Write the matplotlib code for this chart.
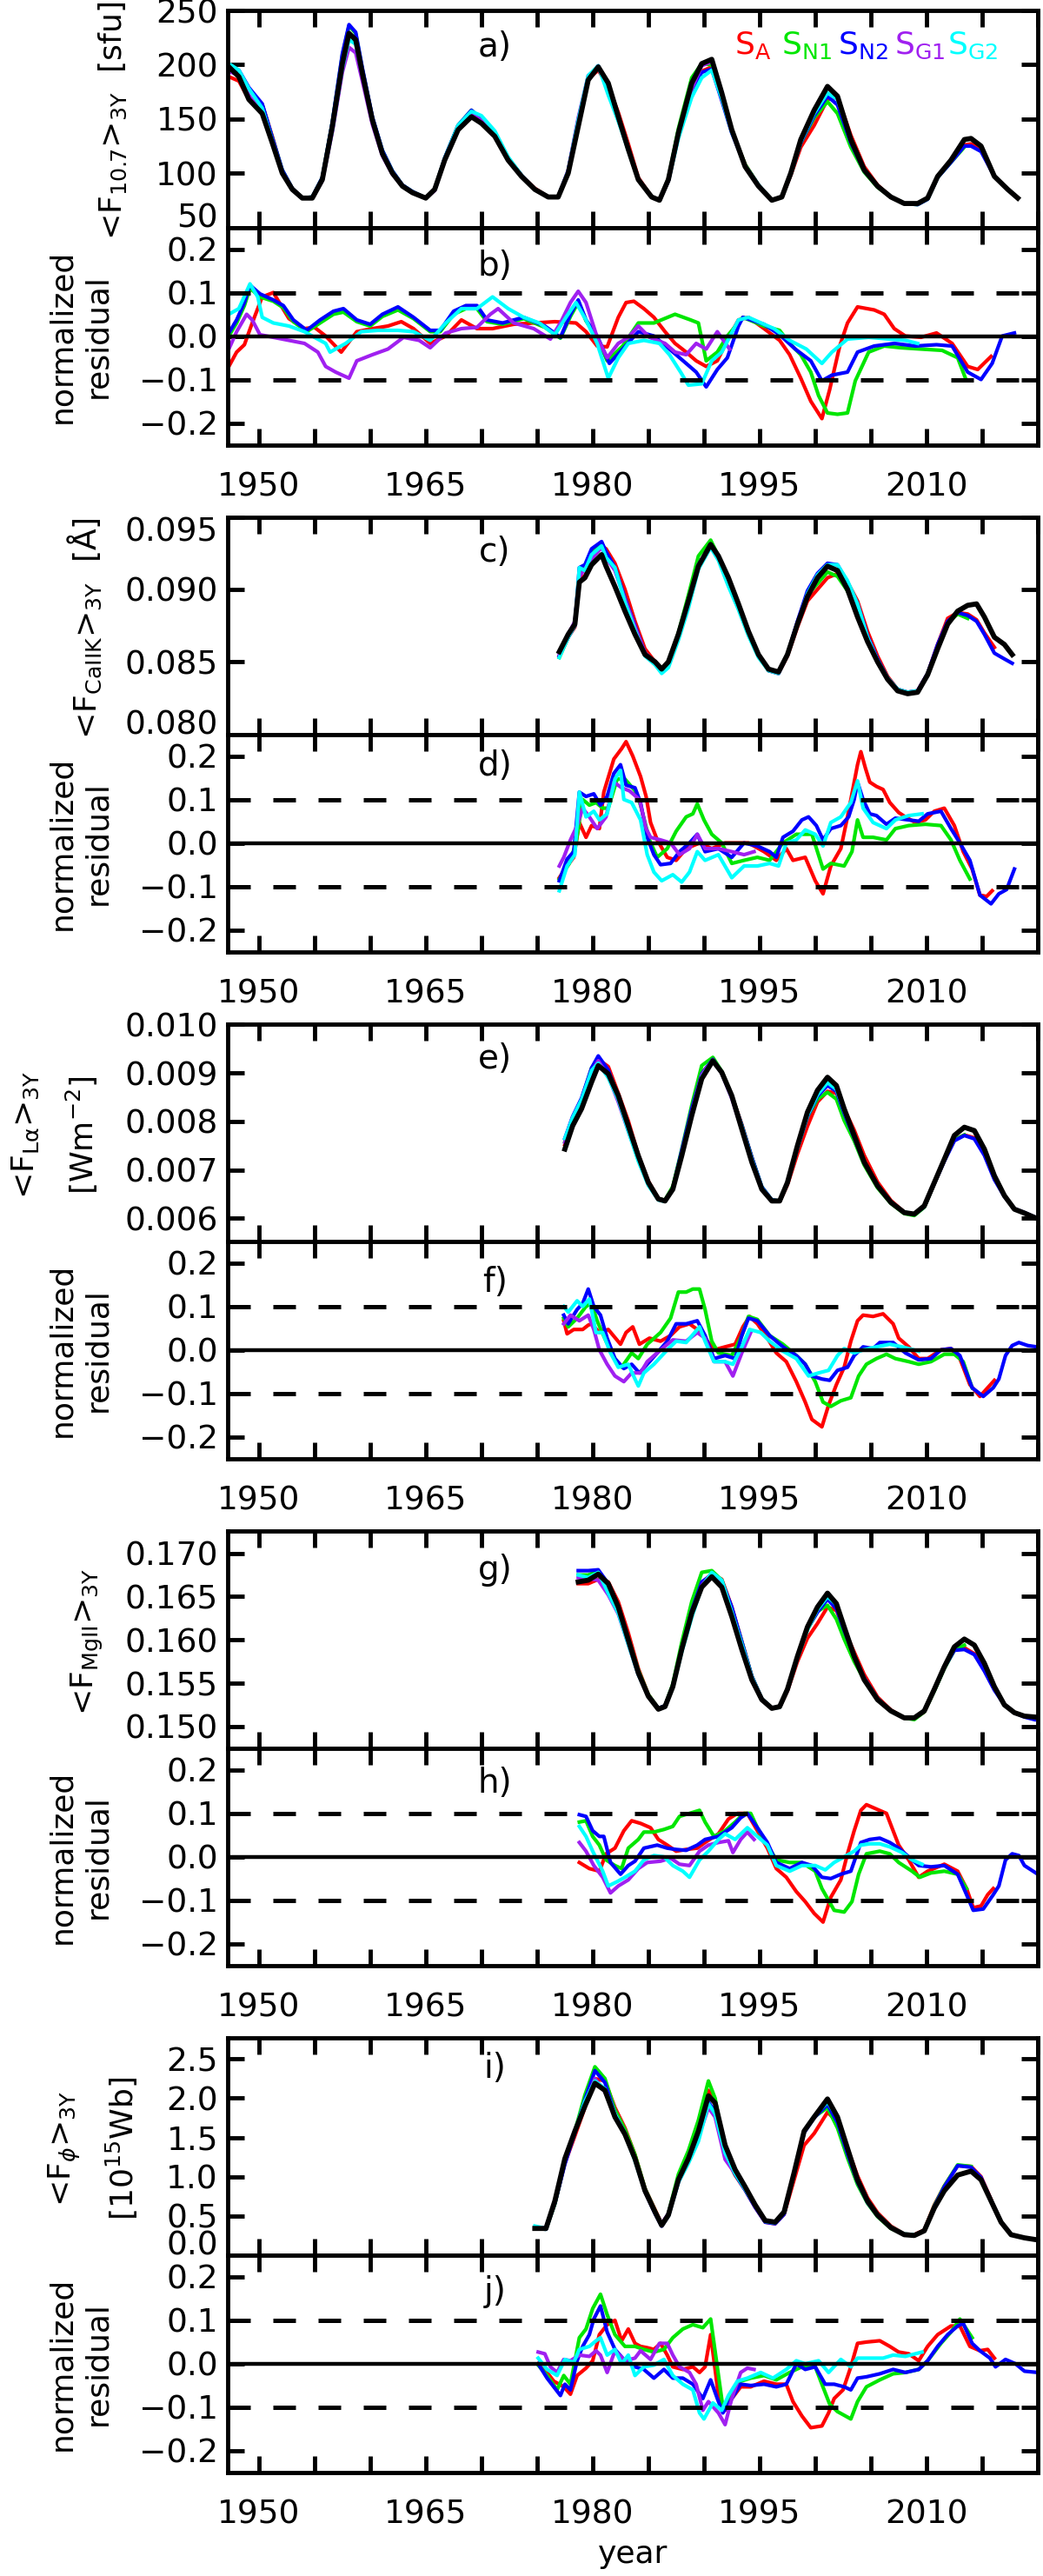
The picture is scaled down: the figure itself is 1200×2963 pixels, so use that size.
import numpy as np
import matplotlib
matplotlib.use('Agg')
import matplotlib.pyplot as plt
from matplotlib.ticker import MultipleLocator, FuncFormatter

plt.rcParams['font.family'] = ['DejaVu Sans']
plt.rcParams['mathtext.fontset'] = 'dejavusans'

# model colours: S_A, S_N1, S_N2, S_G1, S_G2
col_models = ['#ff0000', '#00e600', '#0000ff', '#a020f0', '#00ffff']
names = [r'S$_{\mathrm{A}}$', r'S$_{\mathrm{N1}}$', r'S$_{\mathrm{N2}}$', r'S$_{\mathrm{G1}}$', r'S$_{\mathrm{G2}}$']

# ---------------- F10.7 (panels a, b) ----------------
yr_a = [1947.3, 1948.2, 1949.1, 1950.3, 1951.2, 1952.1, 1953.0, 1953.9, 1954.8, 1955.7,
        1956.6, 1957.5, 1958.1, 1958.7, 1959.3, 1960.2, 1961.1, 1962.0, 1962.9, 1963.8,
        1965.0, 1965.8, 1966.7, 1967.9, 1969.1, 1970.0, 1971.2, 1972.4, 1973.6, 1974.8,
        1976.0, 1976.9, 1977.8, 1978.7, 1979.6, 1980.5, 1981.4, 1982.3, 1983.2, 1984.1,
        1985.3, 1986.0, 1986.8, 1987.7, 1988.9, 1989.8, 1990.7, 1991.6, 1992.5, 1993.7,
        1994.9, 1996.1, 1997.0, 1997.8, 1998.7, 1999.9, 2001.1, 2002.0, 2003.2, 2004.4,
        2005.6, 2006.8, 2008.0, 2009.2, 2010.1, 2011.0, 2012.2, 2013.4, 2014.0, 2014.9,
        2016.1, 2017.3, 2018.2]
obs_a = [198, 189, 168, 155, 128, 100, 85, 77, 77, 94,
         143, 201, 229, 223, 192, 149, 118, 100, 88, 82,
         77, 85, 112, 140, 152, 146, 134, 112, 97, 85,
         78, 78, 100, 143, 186, 198, 183, 152, 122, 94,
         78, 75, 94, 137, 183, 201, 205, 174, 140, 106,
         88, 75, 78, 100, 131, 158, 180, 171, 131, 103,
         88, 78, 72, 72, 77, 97, 112, 131, 132, 125,
         97, 85, 77]
red_a = [189, 185, 168, 163, 134, 102, 86, 77, 77, 94,
         141, 196, 227, 224, 193, 150, 119, 101, 89, 82,
         77, 85, 112, 141, 154, 147, 135, 113, 98, 86,
         78, 78, 101, 145, 187, 195, 180, 156, 127, 96,
         78, 75, 93, 135, 178, 194, 198, 169, 139, 108,
         89, 75, 78, 98, 124, 144, 168, 170, 135, 106,
         89, 78, 72, 72, 77, 97, 112, 126, 127, 122]
grn_a = [199, 194, 178, 163, 133, 103, 86, 77, 78, 96,
         147, 209, 236, 229, 196, 151, 121, 102, 89, 83,
         77, 85, 114, 144, 158, 150, 136, 114, 98, 85,
         78, 78, 102, 149, 188, 198, 176, 149, 122, 95,
         78, 75, 95, 141, 188, 201, 200, 170, 139, 108,
         89, 75, 78, 99, 128, 151, 166, 155, 124, 101,
         87, 78, 72, 71, 76, 96, 110, 124]
blu_a = [199, 195, 179, 164, 133, 103, 86, 77, 78, 96,
         147, 210, 237, 230, 197, 152, 121, 102, 89, 83,
         77, 85, 114, 144, 158, 150, 136, 114, 98, 85,
         78, 78, 102, 149, 188, 199, 176, 149, 122, 94,
         78, 75, 93, 134, 176, 193, 196, 167, 137, 107,
         89, 75, 78, 99, 128, 153, 171, 163, 128, 102,
         88, 78, 72, 71, 76, 96, 110, 125, 125, 120,
         97, 85, 77]
pur_a = [194, 190, 172, 155, 128, 100, 85, 77, 77, 93,
         138, 193, 216, 211, 185, 145, 116, 99, 88, 82,
         77, 84, 112, 141, 154, 149, 138, 113, 98, 85,
         78, 78, 103, 151, 190, 197, 178, 151, 122, 95,
         78, 75, 93, 135, 178, 199, 203, 175]
cyn_a = [201, 195, 178, 160, 130, 101, 85, 77, 77, 94,
         140, 197, 223, 219, 191, 150, 119, 101, 88, 82,
         77, 85, 113, 144, 157, 153, 139, 115, 98, 85,
         78, 78, 102, 149, 190, 199, 172, 148, 121, 94,
         78, 75, 93, 132, 170, 188, 195, 169, 138, 107,
         89, 75, 78, 99, 129, 155, 174, 168, 131, 103,
         88, 78, 72, 72]

res_b_red = [(1947.3, -0.07), (1948.0, -0.037), (1948.7, -0.02), (1949.4, 0.03), (1950.3, 0.09),
             (1951.3, 0.1), (1952.0, 0.07), (1952.7, 0.04), (1954.1, 0.017), (1955.0, 0.02),
             (1956.0, 0.0), (1957.4, -0.037), (1958.8, 0.01), (1960.2, 0.017), (1961.6, 0.023),
             (1962.8, 0.033), (1963.9, 0.017), (1965.4, -0.017), (1966.8, 0.0), (1968.2, 0.037),
             (1969.6, 0.017), (1971.0, 0.017), (1972.9, 0.027), (1974.7, 0.03), (1976.6, 0.033),
             (1978.5, 0.03), (1979.4, 0.01), (1980.4, -0.023), (1981.3, -0.025), (1982.3, 0.043),
             (1983.0, 0.077), (1983.7, 0.08), (1984.6, 0.063), (1985.5, 0.043), (1986.5, 0.01),
             (1987.4, -0.017), (1988.4, -0.037), (1989.3, -0.057), (1990.2, -0.07), (1991.2, -0.057),
             (1992.1, -0.01), (1993.1, 0.037), (1994.0, 0.043), (1995.4, 0.017), (1996.8, -0.01),
             (1997.7, -0.043), (1998.7, -0.097), (1999.6, -0.15), (2000.6, -0.19), (2001.3, -0.123),
             (2002.2, -0.023), (2002.9, 0.03), (2003.8, 0.067), (2005.3, 0.06), (2006.2, 0.05),
             (2007.1, 0.017), (2008.1, 0.0), (2009.5, -0.003), (2010.9, 0.007), (2012.3, -0.017),
             (2013.7, -0.07), (2014.6, -0.077), (2015.8, -0.047)]
res_b_grn = [(1947.3, 0.0), (1948.0, 0.03), (1948.7, 0.07), (1949.2, 0.11), (1950.1, 0.09),
             (1951.3, 0.08), (1952.2, 0.065), (1953.1, 0.033), (1954.3, 0.01), (1955.5, 0.03),
             (1956.7, 0.05), (1957.6, 0.055), (1958.8, 0.033), (1960.0, 0.023), (1961.1, 0.045),
             (1962.5, 0.06), (1963.9, 0.04), (1965.4, 0.01), (1966.3, 0.01), (1967.5, 0.05),
             (1968.6, 0.063), (1969.6, 0.063), (1970.5, 0.033), (1971.9, 0.027), (1973.8, 0.04),
             (1975.7, 0.02), (1977.1, -0.005), (1978.0, 0.045), (1978.7, 0.077), (1979.4, 0.035),
             (1980.4, -0.005), (1981.3, -0.057), (1982.7, -0.023), (1984.1, 0.03), (1985.5, 0.03),
             (1987.4, 0.05), (1988.8, 0.037), (1989.5, 0.03), (1990.2, -0.057), (1991.2, -0.037),
             (1992.1, 0.0), (1993.5, 0.043), (1995.4, 0.023), (1996.8, 0.013), (1997.7, -0.017),
             (1998.7, -0.043), (1999.6, -0.083), (2000.3, -0.137), (2001.1, -0.177), (2002.0, -0.18),
             (2002.9, -0.177), (2003.6, -0.103), (2004.8, -0.037), (2006.2, -0.023), (2007.7, -0.027),
             (2009.5, -0.03), (2011.4, -0.033), (2012.8, -0.05), (2013.5, -0.097)]
res_b_blu = [(1947.3, 0.007), (1948.0, 0.037), (1948.7, 0.077), (1949.2, 0.117), (1950.1, 0.097),
             (1951.3, 0.083), (1952.2, 0.07), (1953.1, 0.037), (1954.3, 0.013), (1955.5, 0.037),
             (1956.7, 0.057), (1957.6, 0.063), (1958.8, 0.037), (1960.0, 0.027), (1961.1, 0.05),
             (1962.5, 0.067), (1963.9, 0.043), (1965.4, 0.013), (1966.3, 0.013), (1967.5, 0.057),
             (1968.6, 0.07), (1969.6, 0.07), (1970.5, 0.037), (1971.9, 0.03), (1973.8, 0.043),
             (1975.7, 0.023), (1977.1, -0.003), (1978.0, 0.05), (1978.7, 0.083), (1979.4, 0.037),
             (1980.4, 0.0), (1981.5, -0.063), (1982.7, -0.03), (1984.1, 0.01), (1985.5, 0.0),
             (1986.9, -0.03), (1988.4, -0.063), (1989.3, -0.083), (1990.2, -0.117), (1991.2, -0.077),
             (1992.1, -0.05), (1993.1, 0.023), (1993.5, 0.043), (1995.4, 0.027), (1996.8, 0.003),
             (1998.2, -0.03), (1999.6, -0.057), (2000.6, -0.103), (2001.5, -0.09), (2002.9, -0.083),
             (2003.8, -0.037), (2005.3, -0.023), (2007.1, -0.017), (2009.0, -0.023), (2010.9, -0.02),
             (2012.3, -0.023), (2013.7, -0.083), (2014.9, -0.1), (2015.9, -0.063), (2016.8, 0.0),
             (2017.9, 0.007)]
res_b_pur = [(1947.3, -0.03), (1948.0, 0.01), (1948.9, 0.05), (1949.4, 0.037), (1950.1, 0.003),
             (1951.3, -0.003), (1952.7, -0.01), (1954.1, -0.017), (1955.3, -0.037), (1956.0, -0.07),
             (1956.9, -0.083), (1958.1, -0.097), (1958.8, -0.057), (1960.2, -0.043), (1961.6, -0.03),
             (1963.0, -0.003), (1964.4, -0.01), (1965.4, -0.027), (1966.8, 0.007), (1968.2, 0.017),
             (1969.6, 0.02), (1970.8, 0.05), (1971.5, 0.063), (1972.9, 0.03), (1974.7, 0.017),
             (1976.2, -0.007), (1977.1, 0.03), (1978.0, 0.077), (1978.7, 0.103), (1979.4, 0.077),
             (1980.4, -0.003), (1981.3, -0.05), (1982.3, -0.017), (1983.2, -0.003), (1984.1, 0.023),
             (1985.1, -0.003), (1986.5, -0.017), (1987.4, -0.037), (1988.4, -0.043), (1989.3, -0.017),
             (1990.2, -0.03), (1991.2, 0.01), (1992.3, -0.03)]
res_b_cyn = [(1947.3, 0.05), (1948.2, 0.063), (1949.2, 0.12), (1949.9, 0.09), (1950.3, 0.043),
             (1951.3, 0.03), (1952.7, 0.023), (1954.1, 0.01), (1955.0, -0.003), (1956.0, -0.017),
             (1956.4, -0.037), (1957.8, -0.017), (1959.2, 0.01), (1960.7, 0.013), (1962.5, 0.013),
             (1963.9, 0.01), (1965.4, -0.01), (1966.8, 0.03), (1968.2, 0.063), (1969.6, 0.063),
             (1971.0, 0.09), (1972.4, 0.063), (1973.8, 0.043), (1975.2, 0.03), (1976.6, 0.003),
             (1977.6, 0.043), (1978.5, 0.077), (1979.4, 0.037), (1980.4, -0.017), (1981.4, -0.097),
             (1982.3, -0.05), (1983.2, -0.017), (1984.6, -0.01), (1986.0, -0.017), (1986.9, -0.043),
             (1987.9, -0.083), (1988.6, -0.113), (1989.8, -0.11), (1990.7, -0.057), (1991.6, -0.037),
             (1993.1, 0.037), (1994.0, 0.043), (1995.4, 0.027), (1996.3, 0.017), (1997.7, -0.01),
             (1999.2, -0.03), (2000.6, -0.063), (2001.5, -0.037), (2002.9, -0.007), (2004.8, -0.003),
             (2006.7, -0.007), (2008.1, -0.01), (2009.2, -0.017)]

# ---------------- Ca II K (panels c, d) ----------------
yr_c = [1977.0, 1977.8, 1978.4, 1978.8, 1979.3, 1979.9, 1980.8, 1981.2, 1982.0, 1982.9,
        1983.8, 1984.7, 1985.6, 1986.2, 1986.8, 1987.7, 1988.6, 1989.5, 1990.6, 1991.3,
        1992.2, 1993.1, 1994.0, 1994.9, 1995.8, 1996.7, 1997.5, 1998.4, 1999.3, 2000.2,
        2001.1, 2002.0, 2002.9, 2003.8, 2004.7, 2005.6, 2006.5, 2007.4, 2008.3, 2009.2,
        2010.1, 2011.0, 2011.9, 2012.8, 2013.7, 2014.5, 2015.2, 2016.1, 2017.0, 2017.7]
obs_c = [0.0857, 0.0869, 0.0876, 0.0905, 0.0908, 0.0917, 0.0924, 0.0916, 0.0902, 0.0885,
         0.0869, 0.0855, 0.0850, 0.0845, 0.0850, 0.0869, 0.0892, 0.0916, 0.0931, 0.0923,
         0.0908, 0.0890, 0.0871, 0.0855, 0.0845, 0.0843, 0.0855, 0.0876, 0.0895, 0.0908,
         0.0916, 0.0913, 0.0900, 0.0881, 0.0864, 0.0850, 0.0838, 0.0830, 0.0828, 0.0829,
         0.0841, 0.0859, 0.0876, 0.0885, 0.0889, 0.0890, 0.0881, 0.0867, 0.0862, 0.0855]
red_c = [0.0854, 0.0867, 0.0874, 0.0909, 0.0909, 0.0921, 0.0930, 0.0928, 0.0918, 0.0900,
         0.0878, 0.0859, 0.0850, 0.0844, 0.0849, 0.0867, 0.0891, 0.0916, 0.0930, 0.0923,
         0.0908, 0.0890, 0.0871, 0.0855, 0.0844, 0.0842, 0.0854, 0.0874, 0.0892, 0.0900,
         0.0908, 0.0911, 0.0905, 0.0892, 0.0871, 0.0854, 0.0840, 0.0831, 0.0829, 0.0830,
         0.0842, 0.0862, 0.0880, 0.0884, 0.0883, 0.0879, 0.0870, 0.0860]
grn_c = [0.0853, 0.0867, 0.0876, 0.0910, 0.0916, 0.0926, 0.0932, 0.0924, 0.0914, 0.0894,
         0.0874, 0.0856, 0.0850, 0.0844, 0.0850, 0.0870, 0.0896, 0.0923, 0.0934, 0.0923,
         0.0904, 0.0887, 0.0869, 0.0854, 0.0844, 0.0843, 0.0855, 0.0877, 0.0896, 0.0904,
         0.0912, 0.0909, 0.0899, 0.0883, 0.0865, 0.0850, 0.0838, 0.0831, 0.0828, 0.0829,
         0.0842, 0.0860, 0.0877, 0.0883, 0.0880]
blu_c = [0.0854, 0.0867, 0.0875, 0.0915, 0.0917, 0.0928, 0.0933, 0.0926, 0.0915, 0.0894,
         0.0875, 0.0856, 0.0849, 0.0843, 0.0849, 0.0868, 0.0892, 0.0917, 0.0930, 0.0922,
         0.0905, 0.0889, 0.0871, 0.0855, 0.0844, 0.0842, 0.0855, 0.0878, 0.0899, 0.0911,
         0.0918, 0.0917, 0.0905, 0.0890, 0.0868, 0.0852, 0.0839, 0.0831, 0.0829, 0.0830,
         0.0842, 0.0862, 0.0878, 0.0884, 0.0882, 0.0878, 0.0869, 0.0856, 0.0852, 0.0849]
pur_c = [0.0855, 0.0869, 0.0878, 0.0909, 0.0914, 0.0921, 0.0929, 0.0922, 0.0913, 0.0893,
         0.0874, 0.0856, 0.0850, 0.0845, 0.0850, 0.0868, 0.0891, 0.0917, 0.0930, 0.0922,
         0.0906, 0.0889, 0.0870]
cyn_c = [0.0853, 0.0867, 0.0875, 0.0915, 0.0913, 0.0924, 0.0930, 0.0922, 0.0915, 0.0891,
         0.0872, 0.0854, 0.0848, 0.0842, 0.0846, 0.0865, 0.0887, 0.0914, 0.0929, 0.0920,
         0.0902, 0.0886, 0.0868, 0.0853, 0.0844, 0.0842, 0.0855, 0.0876, 0.0897, 0.0910,
         0.0917, 0.0917, 0.0906, 0.0890, 0.0867, 0.0851, 0.0839, 0.0831, 0.0829, 0.0830]

res_d_red = [(1977.0, -0.08), (1977.7, -0.053), (1978.3, -0.033), (1978.8, 0.047), (1979.4, 0.013),
             (1979.9, 0.04), (1980.6, 0.033), (1981.0, 0.117), (1981.9, 0.193), (1982.6, 0.217),
             (1983.0, 0.233), (1983.6, 0.2), (1984.3, 0.153), (1984.8, 0.107), (1985.2, 0.047),
             (1985.8, 0.007), (1986.7, -0.033), (1987.5, -0.04), (1988.4, -0.013), (1989.6, 0.0),
             (1990.7, -0.013), (1991.9, 0.0), (1992.8, 0.0), (1994.0, 0.0), (1995.4, -0.02),
             (1996.5, -0.04), (1997.4, -0.013), (1998.0, -0.04), (1999.1, -0.033), (2000.0, -0.087),
             (2000.7, -0.117), (2001.4, -0.053), (2002.3, -0.013), (2002.9, 0.06), (2003.3, 0.113),
             (2003.8, 0.18), (2004.1, 0.21), (2004.5, 0.173), (2004.9, 0.14), (2005.5, 0.13),
             (2006.1, 0.123), (2006.7, 0.093), (2007.5, 0.07), (2008.1, 0.06), (2009.0, 0.047),
             (2009.9, 0.053), (2010.7, 0.073), (2011.6, 0.08), (2012.5, 0.04), (2013.3, -0.02),
             (2014.1, -0.06), (2014.8, -0.12), (2015.4, -0.123), (2015.9, -0.11)]
res_d_grn = [(1977.0, -0.083), (1977.9, -0.047), (1978.5, 0.0), (1979.1, 0.1), (1979.7, 0.087),
             (1980.3, 0.093), (1980.9, 0.08), (1981.4, 0.08), (1982.2, 0.147), (1982.9, 0.147),
             (1983.8, 0.12), (1984.3, 0.087), (1985.1, 0.007), (1985.8, -0.033), (1986.7, -0.013),
             (1987.5, 0.027), (1988.4, 0.06), (1989.0, 0.067), (1989.4, 0.09), (1990.0, 0.053),
             (1990.7, 0.02), (1991.6, 0.0), (1992.5, -0.047), (1993.6, -0.04), (1994.8, -0.033),
             (1995.9, -0.04), (1997.1, 0.0), (1998.3, 0.02), (1999.7, 0.02), (2000.7, -0.06),
             (2001.4, -0.047), (2002.6, -0.053), (2003.3, -0.02), (2003.8, 0.053), (2004.3, 0.013),
             (2005.2, 0.013), (2006.4, 0.007), (2007.2, 0.033), (2008.4, 0.04), (2009.9, 0.043),
             (2011.3, 0.04), (2012.2, 0.007), (2013.0, -0.04), (2013.9, -0.083)]
res_d_blu = [(1977.0, -0.087), (1977.7, -0.037), (1978.3, -0.02), (1978.8, 0.117), (1979.4, 0.107),
             (1980.1, 0.113), (1980.7, 0.087), (1981.3, 0.107), (1981.9, 0.16), (1982.5, 0.18),
             (1983.0, 0.133), (1983.8, 0.127), (1984.3, 0.093), (1984.9, 0.013), (1985.5, -0.027),
             (1986.1, -0.05), (1987.0, -0.047), (1987.8, -0.02), (1988.7, 0.0), (1989.4, 0.02),
             (1990.1, -0.02), (1991.3, -0.013), (1992.5, -0.033), (1993.6, 0.0), (1994.8, -0.007),
             (1995.9, -0.02), (1996.5, -0.033), (1997.1, 0.013), (1998.0, 0.027), (1998.8, 0.053),
             (1999.4, 0.06), (2000.1, 0.04), (2000.7, 0.007), (2001.4, 0.033), (2002.3, 0.04),
             (2003.0, 0.06), (2003.5, 0.1), (2003.8, 0.14), (2004.3, 0.1), (2004.9, 0.067),
             (2005.5, 0.063), (2006.4, 0.043), (2007.2, 0.057), (2008.4, 0.053), (2009.3, 0.05),
             (2010.1, 0.067), (2011.3, 0.073), (2012.2, 0.033), (2013.0, 0.0), (2013.9, -0.04),
             (2014.8, -0.12), (2015.8, -0.14), (2016.5, -0.117), (2017.2, -0.107), (2017.9, -0.06)]
res_d_pur = [(1977.0, -0.053), (1977.4, -0.033), (1978.0, 0.007), (1978.6, 0.04), (1979.1, 0.08),
             (1979.7, 0.06), (1980.4, 0.033), (1981.2, 0.06), (1981.9, 0.14), (1982.6, 0.127),
             (1983.3, 0.12), (1984.2, 0.1), (1984.8, 0.033), (1985.2, 0.013), (1986.1, 0.007),
             (1987.0, 0.0), (1987.8, -0.027), (1988.7, -0.013), (1989.4, 0.02), (1990.1, -0.013),
             (1991.3, -0.013), (1992.5, -0.02), (1993.6, -0.027), (1994.5, -0.02)]
res_d_cyn = [(1977.0, -0.11), (1977.7, -0.053), (1978.4, -0.027), (1978.8, 0.117), (1979.4, 0.06),
             (1980.1, 0.073), (1980.6, 0.053), (1981.3, 0.067), (1982.0, 0.147), (1982.5, 0.167),
             (1982.8, 0.1), (1983.5, 0.093), (1984.3, 0.053), (1984.9, -0.027), (1985.5, -0.067),
             (1986.2, -0.087), (1987.2, -0.073), (1988.0, -0.09), (1988.7, -0.067), (1989.4, -0.02),
             (1990.1, -0.04), (1991.3, -0.027), (1992.5, -0.08), (1993.6, -0.053), (1994.8, -0.053),
             (1995.9, -0.047), (1996.7, -0.053), (1997.4, 0.0), (1998.3, 0.007), (1999.1, 0.03),
             (2000.0, 0.02), (2000.7, -0.007), (2001.4, 0.047), (2002.3, 0.06), (2003.2, 0.093),
             (2003.8, 0.143), (2004.3, 0.08), (2005.2, 0.047), (2006.4, 0.033), (2007.2, 0.053),
             (2008.4, 0.063), (2009.6, 0.067)]

# ---------------- Lyman alpha (panels e, f) ----------------
yr_e = [1977.5, 1978.2, 1979.0, 1979.9, 1980.5, 1981.4, 1982.3, 1983.2, 1984.1, 1985.0,
        1985.9, 1986.5, 1987.2, 1988.0, 1988.9, 1989.8, 1990.8, 1991.6, 1992.5, 1993.4,
        1994.3, 1995.2, 1996.1, 1996.8, 1997.5, 1998.4, 1999.3, 2000.2, 2001.1, 2001.9,
        2002.6, 2003.5, 2004.4, 2005.6, 2006.8, 2008.0, 2008.9, 2009.8, 2010.7, 2011.6,
        2012.5, 2013.4, 2014.3, 2015.2, 2016.1, 2017.0, 2017.9, 2018.8, 2019.7]
obs_e = [0.00743, 0.00791, 0.00826, 0.00881, 0.00915, 0.00898, 0.00853, 0.00791, 0.00729, 0.00674,
         0.00640, 0.00636, 0.00660, 0.00729, 0.00812, 0.00888, 0.00925, 0.00901, 0.00853, 0.00784,
         0.00716, 0.00660, 0.00636, 0.00636, 0.00674, 0.00750, 0.00819, 0.00864, 0.00891, 0.00874,
         0.00826, 0.00771, 0.00716, 0.00667, 0.00633, 0.00612, 0.00609, 0.00626, 0.00674, 0.00722,
         0.00771, 0.00788, 0.00781, 0.00743, 0.00688, 0.00647, 0.00619, 0.00611, 0.00602]
red_e = [0.00752, 0.00800, 0.00838, 0.00902, 0.00928, 0.00913, 0.00858, 0.00801, 0.00731, 0.00677,
         0.00641, 0.00637, 0.00664, 0.00737, 0.00826, 0.00900, 0.00925, 0.00901, 0.00853, 0.00794,
         0.00726, 0.00663, 0.00636, 0.00635, 0.00669, 0.00733, 0.00790, 0.00840, 0.00862, 0.00858,
         0.00826, 0.00782, 0.00730, 0.00675, 0.00637, 0.00613, 0.00608, 0.00624, 0.00672, 0.00720,
         0.00762, 0.00772, 0.00766, 0.00733, 0.00683]
grn_e = [0.00758, 0.00805, 0.00845, 0.00910, 0.00930, 0.00903, 0.00853, 0.00789, 0.00727, 0.00672,
         0.00640, 0.00638, 0.00666, 0.00742, 0.00833, 0.00915, 0.00932, 0.00903, 0.00853, 0.00792,
         0.00726, 0.00665, 0.00638, 0.00636, 0.00672, 0.00745, 0.00810, 0.00846, 0.00860, 0.00846,
         0.00802, 0.00760, 0.00710, 0.00663, 0.00631, 0.00610, 0.00606, 0.00623, 0.00672, 0.00720,
         0.00762, 0.00772]
blu_e = [0.00765, 0.00810, 0.00848, 0.00910, 0.00935, 0.00906, 0.00850, 0.00785, 0.00722, 0.00671,
         0.00640, 0.00637, 0.00662, 0.00740, 0.00826, 0.00898, 0.00928, 0.00901, 0.00852, 0.00792,
         0.00726, 0.00665, 0.00638, 0.00636, 0.00672, 0.00745, 0.00810, 0.00852, 0.00874, 0.00862,
         0.00817, 0.00766, 0.00714, 0.00667, 0.00634, 0.00612, 0.00608, 0.00624, 0.00672, 0.00718,
         0.00760, 0.00771, 0.00764, 0.00730, 0.00680, 0.00645, 0.00620, 0.00612, 0.00603]
pur_e = [0.00757, 0.00808, 0.00842, 0.00902, 0.00925, 0.00893, 0.00840, 0.00780, 0.00722, 0.00670,
         0.00639, 0.00636, 0.00661, 0.00733, 0.00818, 0.00896, 0.00927, 0.00899, 0.00847, 0.00784,
         0.00722]
cyn_e = [0.00765, 0.00808, 0.00845, 0.00905, 0.00920, 0.00890, 0.00845, 0.00780, 0.00718, 0.00668,
         0.00638, 0.00635, 0.00660, 0.00732, 0.00815, 0.00892, 0.00926, 0.00900, 0.00850, 0.00790,
         0.00722, 0.00663, 0.00637, 0.00636, 0.00673, 0.00746, 0.00812, 0.00855, 0.00880, 0.00866,
         0.00822, 0.00770, 0.00716, 0.00668, 0.00634, 0.00613, 0.00609]

res_f_red = [(1977.4, 0.067), (1977.7, 0.037), (1978.3, 0.047), (1979.1, 0.047), (1979.6, 0.057),
             (1979.9, 0.06), (1980.6, 0.04), (1981.4, 0.047), (1982.5, 0.013), (1983.0, 0.04),
             (1983.6, 0.053), (1984.2, 0.013), (1985.1, 0.027), (1986.1, 0.02), (1987.0, 0.033),
             (1987.8, 0.053), (1988.7, 0.06), (1989.4, 0.047), (1990.1, 0.027), (1990.9, 0.0),
             (1991.9, 0.007), (1992.8, 0.013), (1993.5, 0.053), (1994.1, 0.077), (1994.8, 0.06),
             (1995.7, 0.027), (1996.5, -0.007), (1997.4, -0.027), (1998.3, -0.073), (1999.1, -0.12),
             (1999.7, -0.16), (2000.6, -0.177), (2001.2, -0.127), (2001.9, -0.08), (2002.6, -0.04),
             (2003.2, 0.02), (2003.8, 0.067), (2004.3, 0.08), (2005.2, 0.077), (2006.1, 0.083),
             (2007.0, 0.06), (2007.5, 0.027), (2008.4, 0.007), (2009.3, -0.02), (2010.1, -0.02),
             (2011.3, 0.0), (2012.2, 0.003), (2013.0, -0.02), (2013.9, -0.08), (2014.8, -0.107),
             (2015.5, -0.087), (2016.1, -0.07)]
res_f_grn = [(1977.4, 0.073), (1977.8, 0.053), (1978.6, 0.073), (1979.4, 0.1), (1979.9, 0.107),
             (1980.4, 0.067), (1981.2, 0.02), (1982.0, -0.02), (1982.6, -0.04), (1983.5, -0.007),
             (1984.1, -0.02), (1984.9, 0.013), (1986.1, 0.04), (1987.0, 0.073), (1987.7, 0.133),
             (1988.4, 0.133), (1989.0, 0.14), (1989.6, 0.14), (1990.1, 0.093), (1990.7, 0.02),
             (1991.3, -0.007), (1992.5, -0.013), (1993.4, 0.033), (1994.0, 0.077), (1994.8, 0.07),
             (1995.9, 0.033), (1997.1, 0.013), (1998.3, -0.013), (1999.1, -0.033), (2000.0, -0.073),
             (2000.7, -0.12), (2001.4, -0.13), (2002.3, -0.117), (2003.2, -0.11), (2003.9, -0.06),
             (2004.6, -0.033), (2005.5, -0.02), (2006.4, -0.01), (2007.2, -0.02), (2008.4, -0.027),
             (2009.3, -0.033), (2010.4, -0.027), (2011.6, -0.01), (2012.5, -0.01), (2013.3, -0.027),
             (2014.1, -0.087)]
res_f_blu = [(1977.4, 0.08), (1977.8, 0.06), (1978.6, 0.093), (1979.1, 0.107), (1979.6, 0.14),
             (1980.1, 0.1), (1980.7, 0.08), (1981.3, 0.027), (1982.0, -0.02), (1982.8, -0.043),
             (1983.5, -0.033), (1984.2, -0.053), (1984.9, -0.033), (1985.8, -0.007), (1986.7, 0.02),
             (1987.5, 0.06), (1988.4, 0.06), (1989.4, 0.067), (1990.1, 0.033), (1990.9, -0.02),
             (1991.9, -0.013), (1992.8, -0.02), (1993.4, 0.033), (1994.0, 0.073), (1994.8, 0.067),
             (1995.9, 0.033), (1997.1, 0.007), (1998.3, -0.013), (1999.1, -0.033), (1999.7, -0.06),
             (2000.6, -0.067), (2001.3, -0.07), (2002.0, -0.047), (2002.9, -0.04), (2003.5, -0.013),
             (2004.3, 0.007), (2005.2, 0.003), (2005.8, 0.017), (2007.0, 0.017), (2008.1, -0.007),
             (2009.3, -0.023), (2010.4, -0.02), (2011.3, 0.0), (2012.2, 0.003), (2013.0, -0.013),
             (2014.1, -0.087), (2015.1, -0.107), (2016.0, -0.087), (2016.5, -0.067), (2017.1, -0.013),
             (2017.7, 0.01), (2018.3, 0.017), (2019.1, 0.01), (2019.9, 0.007)]
res_f_pur = [(1977.4, 0.06), (1978.0, 0.08), (1978.8, 0.067), (1979.6, 0.08), (1980.1, 0.047),
             (1980.6, 0.0), (1981.3, -0.033), (1982.0, -0.06), (1982.8, -0.073), (1983.5, -0.053),
             (1984.3, -0.053), (1984.9, -0.027), (1986.1, 0.0), (1987.2, 0.023), (1988.4, 0.02),
             (1989.4, 0.04), (1990.1, 0.027), (1990.9, -0.027), (1991.9, -0.027), (1992.6, -0.06),
             (1993.4, -0.007), (1994.2, 0.04)]
res_f_cyn = [(1977.4, 0.1), (1977.8, 0.087), (1978.6, 0.113), (1979.1, 0.1), (1979.7, 0.117),
             (1980.3, 0.04), (1980.9, 0.04), (1981.6, -0.007), (1982.3, -0.04), (1983.2, -0.033),
             (1983.8, -0.067), (1984.1, -0.083), (1984.6, -0.053), (1985.5, -0.033), (1986.7, 0.0),
             (1987.5, 0.02), (1988.4, 0.017), (1989.6, 0.053), (1990.1, 0.02), (1990.9, -0.027),
             (1991.9, -0.027), (1992.6, -0.033), (1993.4, 0.007), (1994.1, 0.047), (1995.1, 0.04),
             (1995.9, 0.02), (1997.1, -0.003), (1998.3, -0.02), (1999.4, -0.06), (2000.3, -0.053),
             (2001.2, -0.047), (2002.0, -0.013), (2002.6, 0.003), (2003.5, -0.007), (2004.3, 0.0),
             (2005.5, 0.007), (2006.7, 0.013), (2007.8, 0.007), (2009.3, -0.003)]

# ---------------- Mg II (panels g, h) ----------------
yr_g = [1978.7, 1979.6, 1980.5, 1981.4, 1982.3, 1983.2, 1984.1, 1985.0, 1985.9, 1986.5,
        1987.2, 1988.0, 1988.9, 1989.8, 1990.7, 1991.6, 1992.5, 1993.4, 1994.3, 1995.2,
        1996.1, 1996.8, 1997.5, 1998.4, 1999.3, 2000.2, 2001.1, 2001.9, 2002.6, 2003.5,
        2004.4, 2005.6, 2006.8, 2008.0, 2008.9, 2009.8, 2010.7, 2011.6, 2012.5, 2013.4,
        2014.3, 2015.2, 2016.1, 2017.0, 2017.9, 2018.8, 2019.7]
obs_g = [0.1667, 0.1669, 0.1676, 0.1665, 0.1638, 0.1600, 0.1562, 0.1535, 0.1520, 0.1523,
         0.1546, 0.1589, 0.1631, 0.1661, 0.1673, 0.1661, 0.1627, 0.1589, 0.1554, 0.1531,
         0.1521, 0.1523, 0.1543, 0.1581, 0.1615, 0.1638, 0.1654, 0.1642, 0.1615, 0.1581,
         0.1554, 0.1531, 0.1518, 0.1510, 0.1510, 0.1518, 0.1543, 0.1569, 0.1592, 0.1601,
         0.1594, 0.1573, 0.1546, 0.1525, 0.1516, 0.1512, 0.1511]
red_g = [0.1665, 0.1665, 0.1670, 0.1667, 0.1644, 0.1608, 0.1567, 0.1537, 0.1521, 0.1524,
         0.1547, 0.1590, 0.1634, 0.1666, 0.1676, 0.1670, 0.1638, 0.1598, 0.1558, 0.1532,
         0.1521, 0.1522, 0.1541, 0.1575, 0.1602, 0.1619, 0.1638, 0.1634, 0.1612, 0.1586,
         0.1560, 0.1534, 0.1519, 0.1510, 0.1509, 0.1517, 0.1542, 0.1568, 0.1589, 0.1591,
         0.1584, 0.1565, 0.1543]
grn_g = [0.1675, 0.1675, 0.1680, 0.1664, 0.1635, 0.1602, 0.1565, 0.1537, 0.1521, 0.1524,
         0.1549, 0.1597, 0.1644, 0.1678, 0.1680, 0.1669, 0.1636, 0.1598, 0.1558, 0.1532,
         0.1521, 0.1523, 0.1543, 0.1580, 0.1612, 0.1633, 0.1640, 0.1624, 0.1601, 0.1575,
         0.1554, 0.1531, 0.1518, 0.1510, 0.1508, 0.1517, 0.1541, 0.1567, 0.1588, 0.1594]
blu_g = [0.1680, 0.1680, 0.1681, 0.1665, 0.1632, 0.1599, 0.1563, 0.1536, 0.1521, 0.1524,
         0.1547, 0.1590, 0.1634, 0.1667, 0.1675, 0.1668, 0.1638, 0.1598, 0.1558, 0.1532,
         0.1521, 0.1523, 0.1542, 0.1580, 0.1613, 0.1632, 0.1647, 0.1636, 0.1611, 0.1581,
         0.1556, 0.1532, 0.1518, 0.1510, 0.1510, 0.1518, 0.1542, 0.1568, 0.1588, 0.1589,
         0.1583, 0.1564, 0.1542, 0.1525, 0.1516, 0.1511, 0.1508]
pur_g = [0.1672, 0.1671, 0.1669, 0.1652, 0.1630, 0.1595, 0.1560, 0.1535, 0.1520, 0.1523,
         0.1546, 0.1588, 0.1628, 0.1663, 0.1677, 0.1667, 0.1631, 0.1594, 0.1556]
cyn_g = [0.1675, 0.1672, 0.1678, 0.1654, 0.1631, 0.1595, 0.1560, 0.1535, 0.1520, 0.1523,
         0.1545, 0.1586, 0.1626, 0.1661, 0.1678, 0.1669, 0.1632, 0.1595, 0.1557, 0.1532,
         0.1521, 0.1522, 0.1542, 0.1579, 0.1612, 0.1635, 0.1650, 0.1641, 0.1615, 0.1582,
         0.1555, 0.1532, 0.1518, 0.1510, 0.1510]

res_h_red = [(1978.8, -0.013), (1979.7, -0.027), (1980.6, -0.033), (1981.2, 0.007), (1982.0, 0.02),
             (1982.8, 0.06), (1983.5, 0.083), (1984.3, 0.077), (1985.2, 0.067), (1985.9, 0.04),
             (1986.7, 0.027), (1987.5, 0.013), (1988.4, 0.017), (1989.4, 0.02), (1990.1, 0.033),
             (1991.3, 0.053), (1992.2, 0.087), (1993.0, 0.1), (1993.9, 0.1), (1994.8, 0.06),
             (1995.7, 0.02), (1996.5, -0.027), (1997.4, -0.047), (1998.3, -0.08), (1999.1, -0.103),
             (1999.9, -0.13), (2000.7, -0.15), (2001.4, -0.093), (2002.3, -0.053), (2002.9, 0.007),
             (2003.5, 0.06), (2004.1, 0.107), (2004.6, 0.12), (2005.5, 0.11), (2006.4, 0.1),
             (2007.0, 0.06), (2007.5, 0.027), (2008.4, -0.007), (2009.3, -0.047), (2010.1, -0.033),
             (2011.6, -0.017), (2012.8, -0.033), (2013.6, -0.073), (2014.2, -0.117), (2014.9, -0.113),
             (2015.5, -0.087), (2016.0, -0.073)]
res_h_grn = [(1978.8, 0.08), (1979.4, 0.083), (1980.0, 0.047), (1980.6, 0.027), (1981.2, -0.007),
             (1982.0, -0.02), (1982.6, -0.027), (1983.2, 0.02), (1984.1, 0.04), (1984.6, 0.057),
             (1985.5, 0.057), (1986.4, 0.063), (1987.2, 0.07), (1987.8, 0.093), (1988.7, 0.1),
             (1989.6, 0.107), (1990.1, 0.08), (1990.9, 0.047), (1991.9, 0.06), (1992.8, 0.08),
             (1993.6, 0.1), (1994.2, 0.1), (1994.8, 0.067), (1995.7, 0.027), (1996.5, -0.007),
             (1997.7, -0.013), (1998.8, -0.013), (2000.0, -0.033), (2000.6, -0.073), (2001.2, -0.1),
             (2001.7, -0.123), (2002.6, -0.127), (2003.3, -0.103), (2003.9, -0.04), (2004.6, 0.007),
             (2005.8, 0.013), (2006.7, 0.007), (2007.5, -0.013), (2008.7, -0.033), (2009.4, -0.047),
             (2010.4, -0.037), (2011.6, -0.033), (2012.8, -0.04), (2013.6, -0.073)]
res_h_blu = [(1978.8, 0.097), (1979.4, 0.093), (1980.0, 0.06), (1980.6, 0.047), (1981.0, 0.047),
             (1981.6, -0.013), (1982.5, -0.04), (1983.2, -0.02), (1983.8, -0.01), (1984.6, 0.02),
             (1985.8, 0.027), (1986.7, 0.02), (1987.5, 0.017), (1988.4, 0.015), (1989.4, 0.027),
             (1990.1, 0.04), (1991.3, 0.047), (1992.5, 0.067), (1993.3, 0.09), (1993.9, 0.1),
             (1994.8, 0.067), (1995.7, 0.033), (1996.5, -0.013), (1997.7, -0.027), (1998.8, -0.013),
             (1999.7, -0.02), (2000.6, -0.047), (2001.4, -0.05), (2002.3, -0.04), (2003.2, -0.033),
             (2004.1, 0.033), (2004.9, 0.04), (2005.8, 0.043), (2006.7, 0.033), (2007.5, 0.02),
             (2008.4, 0.0), (2009.3, -0.02), (2010.4, -0.023), (2011.6, -0.02), (2012.8, -0.04),
             (2013.6, -0.087), (2014.2, -0.123), (2015.1, -0.12), (2016.0, -0.087), (2016.5, -0.067),
             (2017.1, -0.007), (2017.7, 0.007), (2018.3, 0.003), (2018.8, -0.02), (2019.4, -0.03),
             (2020.0, -0.04)]
res_h_pur = [(1978.8, 0.033), (1979.4, 0.013), (1980.1, -0.02), (1980.9, -0.047), (1981.6, -0.083),
             (1982.3, -0.067), (1983.2, -0.053), (1984.1, -0.027), (1984.9, -0.013), (1986.1, -0.01),
             (1987.0, -0.003), (1987.8, -0.017), (1988.7, -0.02), (1989.6, 0.013), (1990.4, 0.027),
             (1991.3, 0.033), (1992.2, 0.037), (1992.6, 0.01), (1993.3, 0.04), (1993.9, 0.057),
             (1994.5, 0.04)]
res_h_cyn = [(1978.8, 0.07), (1979.4, 0.047), (1980.0, 0.013), (1980.9, -0.033), (1981.4, -0.067),
             (1982.2, -0.057), (1982.9, -0.047), (1983.8, -0.033), (1984.6, -0.007), (1985.5, 0.003),
             (1986.4, 0.0), (1987.2, -0.02), (1988.1, -0.033), (1988.7, -0.047), (1989.6, -0.007),
             (1990.4, 0.013), (1991.3, 0.04), (1991.9, 0.053), (1992.8, 0.04), (1993.9, 0.067),
             (1994.8, 0.047), (1995.7, 0.027), (1996.5, -0.02), (1997.7, -0.033), (1998.8, -0.02),
             (2000.0, -0.02), (2000.9, -0.03), (2001.7, -0.013), (2002.6, 0.0), (2003.5, 0.013),
             (2004.1, 0.027), (2004.9, 0.03), (2005.8, 0.03), (2006.7, 0.023), (2007.8, 0.01),
             (2008.7, -0.007), (2009.6, -0.017)]

# ---------------- magnetic flux (panels i, j) ----------------
yr_i = [1974.8, 1975.8, 1976.6, 1977.5, 1978.4, 1979.3, 1980.2, 1981.1, 1982.0, 1982.9,
        1983.8, 1984.7, 1985.6, 1986.2, 1986.8, 1987.7, 1988.6, 1989.5, 1990.4, 1991.0,
        1991.9, 1992.8, 1993.7, 1994.6, 1995.5, 1996.4, 1997.2, 1998.1, 1999.0, 1999.9,
        2001.1, 2002.0, 2002.9, 2003.8, 2004.7, 2005.6, 2006.8, 2008.0, 2008.9, 2009.8,
        2010.7, 2011.6, 2012.8, 2014.0, 2014.9, 2015.8, 2016.7, 2017.6, 2018.8, 2019.7]
obs_i = [0.34, 0.34, 0.69, 1.23, 1.58, 1.90, 2.19, 2.10, 1.76, 1.54,
         1.23, 0.82, 0.55, 0.38, 0.51, 0.96, 1.23, 1.58, 2.03, 1.94,
         1.40, 1.09, 0.87, 0.64, 0.44, 0.42, 0.55, 1.05, 1.58, 1.76,
         1.99, 1.76, 1.36, 0.96, 0.69, 0.51, 0.35, 0.26, 0.25, 0.31,
         0.60, 0.82, 1.02, 1.07, 0.96, 0.69, 0.42, 0.26, 0.22, 0.20]
red_i = [0.34, 0.34, 0.66, 1.17, 1.52, 1.88, 2.25, 2.22, 1.88, 1.62,
         1.28, 0.85, 0.58, 0.40, 0.52, 0.96, 1.22, 1.56, 2.10, 1.94,
         1.28, 1.02, 0.83, 0.61, 0.42, 0.40, 0.52, 0.96, 1.40, 1.55,
         1.82, 1.70, 1.36, 1.01, 0.73, 0.54, 0.37, 0.27, 0.26, 0.32,
         0.64, 0.88, 1.14, 1.13, 1.00, 0.71]
grn_i = [0.34, 0.33, 0.65, 1.18, 1.58, 2.04, 2.40, 2.25, 1.85, 1.60,
         1.28, 0.85, 0.57, 0.39, 0.53, 1.03, 1.33, 1.72, 2.22, 2.00,
         1.30, 1.03, 0.84, 0.62, 0.43, 0.41, 0.53, 1.04, 1.58, 1.76,
         1.88, 1.62, 1.24, 0.90, 0.66, 0.49, 0.34, 0.26, 0.25, 0.31,
         0.63, 0.88, 1.15, 1.13]
blu_i = [0.34, 0.33, 0.66, 1.16, 1.56, 1.98, 2.35, 2.20, 1.80, 1.55,
         1.22, 0.81, 0.53, 0.37, 0.50, 0.93, 1.19, 1.50, 1.95, 1.83,
         1.28, 1.03, 0.83, 0.61, 0.42, 0.40, 0.52, 1.05, 1.56, 1.75,
         1.92, 1.69, 1.29, 0.93, 0.67, 0.50, 0.35, 0.26, 0.25, 0.31,
         0.62, 0.87, 1.14, 1.12, 0.99, 0.70, 0.42, 0.26, 0.22, 0.20]
pur_i = [0.35, 0.35, 0.68, 1.22, 1.58, 1.92, 2.25, 2.08, 1.80, 1.55,
         1.24, 0.84, 0.56, 0.40, 0.53, 0.96, 1.21, 1.50, 1.88, 1.76,
         1.22, 1.04, 0.86]
cyn_i = [0.37, 0.34, 0.68, 1.22, 1.58, 1.96, 2.22, 2.12, 1.80, 1.55,
         1.20, 0.82, 0.55, 0.38, 0.50, 0.93, 1.17, 1.45, 1.93, 1.80,
         1.30, 1.04, 0.84, 0.63, 0.43, 0.41, 0.54, 1.06, 1.58, 1.77,
         1.95, 1.76, 1.36, 0.97, 0.70, 0.52, 0.36, 0.27, 0.26]

res_j_red = [(1975.1, 0.0), (1975.7, -0.013), (1976.5, -0.04), (1977.4, -0.053), (1978.0, -0.07),
             (1978.6, -0.027), (1979.4, -0.01), (1980.0, 0.007), (1980.6, 0.067), (1981.3, 0.09),
             (1982.0, 0.1), (1982.6, 0.053), (1983.2, 0.08), (1983.8, 0.047), (1984.3, 0.04),
             (1984.9, 0.037), (1985.5, 0.033), (1986.1, 0.047), (1986.7, 0.02), (1987.2, -0.007),
             (1988.1, -0.013), (1989.0, -0.007), (1989.6, -0.02), (1990.1, -0.007), (1990.6, 0.067),
             (1991.3, -0.073), (1991.9, -0.107), (1992.5, -0.08), (1993.3, -0.053), (1994.2, -0.053),
             (1995.4, -0.04), (1996.5, -0.047), (1997.4, -0.047), (1998.0, -0.087), (1998.8, -0.12),
             (1999.6, -0.147), (2000.6, -0.143), (2001.2, -0.113), (2001.7, -0.08), (2002.5, -0.06),
             (2003.2, -0.007), (2003.8, 0.047), (2004.6, 0.05), (2005.8, 0.053), (2006.7, 0.04),
             (2007.5, 0.027), (2008.4, 0.023), (2009.3, 0.007), (2010.1, 0.04), (2011.0, 0.067),
             (2012.2, 0.087), (2013.0, 0.087), (2013.9, 0.04), (2014.8, 0.03), (2015.5, 0.033),
             (2016.1, 0.013)]
res_j_grn = [(1975.1, -0.003), (1975.9, -0.027), (1976.8, -0.06), (1977.4, -0.027), (1978.0, -0.047),
             (1978.8, 0.06), (1979.4, 0.08), (1980.0, 0.127), (1980.7, 0.16), (1981.3, 0.113),
             (1982.0, 0.067), (1982.9, 0.04), (1983.8, 0.04), (1984.6, 0.033), (1985.5, 0.027),
             (1986.4, 0.033), (1987.2, 0.06), (1988.1, 0.08), (1989.0, 0.09), (1989.9, 0.083),
             (1990.6, 0.103), (1991.7, -0.1), (1992.5, -0.073), (1993.3, -0.04), (1994.2, -0.033),
             (1995.4, -0.027), (1996.5, -0.037), (1997.7, -0.02), (1998.8, -0.007), (2000.0, -0.007),
             (2000.6, -0.047), (2001.3, -0.093), (2002.0, -0.11), (2003.2, -0.127), (2003.8, -0.087),
             (2004.6, -0.053), (2005.8, -0.037), (2007.0, -0.023), (2008.1, -0.02), (2009.3, -0.013),
             (2010.1, 0.007), (2011.3, 0.047), (2012.2, 0.073), (2013.0, 0.103), (2014.1, 0.06)]
res_j_blu = [(1975.1, 0.0), (1975.9, -0.033), (1976.5, -0.053), (1977.1, -0.073), (1977.5, -0.047),
             (1978.0, -0.06), (1978.6, 0.007), (1979.1, 0.04), (1979.7, 0.067), (1980.1, 0.103),
             (1980.7, 0.133), (1981.3, 0.073), (1982.0, 0.033), (1982.9, 0.007), (1983.8, -0.007),
             (1984.6, -0.013), (1985.5, -0.033), (1986.4, -0.013), (1987.2, -0.033), (1988.1, -0.033),
             (1989.0, -0.047), (1989.9, -0.08), (1990.6, -0.037), (1991.2, -0.08), (1991.7, -0.113),
             (1992.5, -0.08), (1993.3, -0.047), (1994.2, -0.05), (1995.4, -0.047), (1996.5, -0.053),
             (1997.4, -0.047), (1998.3, 0.0), (1999.1, -0.013), (2000.0, -0.007), (2000.9, -0.047),
             (2001.7, -0.047), (2002.6, -0.053), (2003.2, -0.06), (2003.8, -0.033), (2004.6, -0.03),
             (2005.8, -0.023), (2007.0, -0.013), (2008.1, -0.02), (2009.3, -0.013), (2010.1, 0.007),
             (2011.0, 0.04), (2011.9, 0.067), (2012.8, 0.087), (2013.3, 0.093), (2014.1, 0.047),
             (2014.8, 0.03), (2015.7, 0.013), (2016.2, -0.007), (2017.1, 0.01), (2018.0, 0.0),
             (2018.8, -0.017), (2020.0, -0.02)]
res_j_pur = [(1975.1, 0.027), (1975.7, 0.023), (1976.2, -0.007), (1976.8, -0.02), (1977.4, 0.01),
             (1978.0, 0.007), (1978.8, 0.02), (1979.7, 0.017), (1980.3, 0.03), (1980.7, 0.02),
             (1981.3, -0.02), (1982.0, 0.03), (1982.9, 0.007), (1983.8, 0.013), (1984.3, 0.03),
             (1985.2, 0.01), (1986.0, 0.047), (1986.7, 0.047), (1987.2, 0.02), (1987.8, -0.007),
             (1988.7, -0.02), (1989.3, -0.047), (1989.9, -0.107), (1990.4, -0.087), (1991.3, -0.113),
             (1991.9, -0.14), (1992.5, -0.08), (1993.3, -0.02), (1993.9, -0.01), (1994.5, -0.013)]
res_j_cyn = [(1975.1, 0.013), (1975.9, -0.013), (1976.8, -0.027), (1977.5, 0.01), (1978.3, 0.003),
             (1978.8, 0.033), (1979.7, 0.04), (1980.3, 0.053), (1980.7, 0.06), (1981.3, 0.02),
             (1982.0, 0.033), (1982.6, 0.0), (1983.2, 0.02), (1983.8, -0.027), (1984.6, -0.007),
             (1985.5, -0.003), (1986.4, 0.01), (1987.2, -0.027), (1988.1, -0.047), (1989.0, -0.06),
             (1989.6, -0.113), (1990.0, -0.127), (1990.8, -0.09), (1991.6, -0.107), (1992.2, -0.073),
             (1993.0, -0.04), (1993.9, -0.033), (1995.1, -0.02), (1996.2, -0.033), (1997.4, -0.013),
             (1998.3, 0.007), (1999.1, 0.0), (2000.3, 0.007), (2001.2, -0.02), (2002.3, 0.01),
             (2003.2, -0.007), (2003.8, 0.013), (2004.9, 0.013), (2006.1, 0.013), (2007.0, 0.02),
             (2008.1, 0.017), (2009.6, 0.027)]

# ---------------- layout (pixels of a 1200 x 2963 figure) ----------------
W, H = 1200.0, 2963.0
fig = plt.figure(figsize=(12, 29.63), dpi=100)
x0, xw = 262 / W, 932 / W
ph = 250 / H

LW_M = 3.0   # model lines
LW_K = 4.2   # observed line
FS = 26      # labels
FT = 27      # tick labels

def xfmt(v, pos):
    y = int(round(v))
    return str(y) if y % 15 == 0 else ''

def style(ax, labels_x):
    ax.set_xlim(1947.2, 2020.0)
    ax.xaxis.set_major_locator(MultipleLocator(5))
    ax.xaxis.set_major_formatter(FuncFormatter(xfmt))
    ax.tick_params(direction='in', length=14, width=3.5, top=True, right=True,
                   labelsize=FT, labelbottom=labels_x)
    ax.tick_params(axis='x', pad=22)
    ax.tick_params(axis='y', pad=8)
    for s in ax.spines.values():
        s.set_linewidth(3.5)

def edge_labels(ax, ticks, lo, hi):
    # the end labels sit inside the frame, as in the original
    for t, tk in zip(ticks, ax.yaxis.get_major_ticks()):
        if abs(t - lo) < 1e-9:
            tk.label1.set_verticalalignment('baseline')
        elif abs(t - hi) < 1e-9:
            tk.label1.set_verticalalignment('top')

top_sets = [
    (yr_a, obs_a, [red_a, grn_a, blu_a, pur_a, cyn_a], (50, 250.5), [50, 100, 150, 200, 250], '%d'),
    (yr_c, obs_c, [red_c, grn_c, blu_c, pur_c, cyn_c], (0.0800, 0.0950), [0.080, 0.085, 0.090, 0.095], '%.3f'),
    (yr_e, obs_e, [red_e, grn_e, blu_e, pur_e, cyn_e], (0.00553, 0.01001), [0.006, 0.007, 0.008, 0.009, 0.010], '%.3f'),
    (yr_g, obs_g, [red_g, grn_g, blu_g, pur_g, cyn_g], (0.1475, 0.1726), [0.150, 0.155, 0.160, 0.165, 0.170], '%.3f'),
    (yr_i, obs_i, [red_i, grn_i, blu_i, pur_i, cyn_i], (0.0, 2.77), [0.0, 0.5, 1.0, 1.5, 2.0, 2.5], '%.1f'),
]
res_sets = [
    [res_b_red, res_b_grn, res_b_blu, res_b_pur, res_b_cyn],
    [res_d_red, res_d_grn, res_d_blu, res_d_pur, res_d_cyn],
    [res_f_red, res_f_grn, res_f_blu, res_f_pur, res_f_cyn],
    [res_h_red, res_h_grn, res_h_blu, res_h_pur, res_h_cyn],
    [res_j_red, res_j_grn, res_j_blu, res_j_pur, res_j_cyn],
]
letters = [('a)', 'b)'), ('c)', 'd)'), ('e)', 'f)'), ('g)', 'h)'), ('i)', 'j)')]
letter_y = [(0.83, 0.82), (0.84, 0.855), (0.84, 0.81), (0.82, 0.84), (0.86, 0.83)]
ylabels = [
    [(-0.142, r'<F$_{\mathrm{10.7}}$>$_{\mathrm{3Y}}$  [sfu]')],
    [(-0.177, r'<F$_{\mathrm{CaIIK}}$>$_{\mathrm{3Y}}$  [Å]')],
    [(-0.250, r'<F$_{\mathrm{L\alpha}}$>$_{\mathrm{3Y}}$'), (-0.180, r'[Wm$^{\mathrm{-2}}$]')],
    [(-0.173, r'<F$_{\mathrm{MgII}}$>$_{\mathrm{3Y}}$')],
    [(-0.201, r'<F$_{\phi}$>$_{\mathrm{3Y}}$'), (-0.131, r'[10$^{\mathrm{15}}$Wb]')],
]

def res_fmt(v, pos):
    return ('%.1f' % v).replace('-', '\u2212')

for k in range(5):
    top_px = 11.5 + k * 583.1
    ax = fig.add_axes([x0, 1 - (top_px + 250) / H, xw, ph])
    ar = fig.add_axes([x0, 1 - (top_px + 500) / H, xw, ph])

    yr, obs, models, ylim, yt, fmt = top_sets[k]
    for vals, col in zip(models, col_models):
        ax.plot(yr[:len(vals)], vals, color=col, lw=LW_M, solid_joinstyle='round')
    ax.plot(yr, obs, color='k', lw=LW_K, solid_joinstyle='round')
    style(ax, False)
    ax.set_ylim(*ylim)
    ax.set_yticks(yt)
    ax.set_yticklabels([fmt % t for t in yt])
    edge_labels(ax, yt, ylim[0], ylim[1])

    for xpos, txt in ylabels[k]:
        ax.text(xpos, 0.49, txt, transform=ax.transAxes, rotation=90,
                ha='center', va='center', fontsize=FS)

    ax.text(0.33, letter_y[k][0], letters[k][0], transform=ax.transAxes,
            ha='center', va='center', fontsize=28)

    # residual panel
    ar.axhline(0.0, color='k', lw=3.2, zorder=3)
    for lev in (0.1, -0.1):
        ar.axhline(lev, color='k', lw=3.6, dashes=(5.2, 5.2), zorder=3)
    for pts, col in zip(res_sets[k], col_models):
        xs, ys = zip(*pts)
        ar.plot(xs, ys, color=col, lw=LW_M, solid_joinstyle='round')
    style(ar, True)
    ar.set_ylim(-0.25, 0.25)
    ar.set_yticks([-0.2, -0.1, 0.0, 0.1, 0.2])
    ar.yaxis.set_major_formatter(FuncFormatter(res_fmt))
    ar.text(-0.183, 0.5, 'normalized\nresidual', transform=ar.transAxes, rotation=90,
            ha='center', va='center', multialignment='center', linespacing=1.25,
            fontsize=FS)
    ar.text(0.33, letter_y[k][1], letters[k][1], transform=ar.transAxes,
            ha='center', va='center', fontsize=28)

    if k == 0:
        for xf, nm, col in zip([0.626, 0.683, 0.753, 0.823, 0.888], names, col_models):
            ax.text(xf, 0.80, nm, transform=ax.transAxes, color=col,
                    ha='left', va='baseline', fontsize=FS)

fig.text(728 / W, 1 - 2938 / H, 'year', ha='center', va='center', fontsize=FS)

fig.savefig('out.png', dpi=100)
